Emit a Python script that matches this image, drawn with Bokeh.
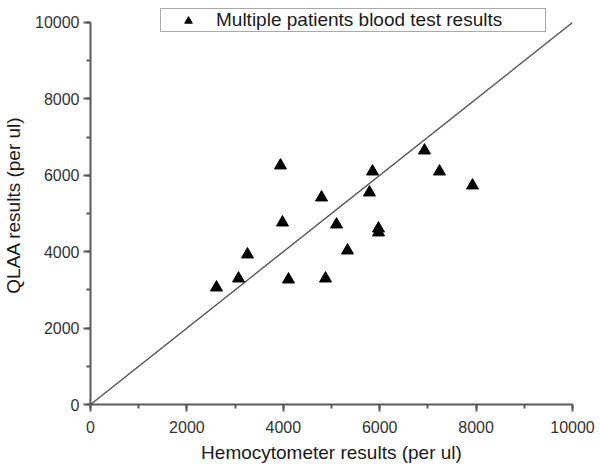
from bokeh.plotting import figure
from bokeh.models import Range1d, SingleIntervalTicker, Legend, LegendItem
from bokeh.embed import file_html
from bokeh.resources import INLINE

# Data
hemocytometer = [2614, 3071, 3257, 3942, 3983, 4108, 4793, 4876, 5104, 5332,
                 5788, 5851, 5975, 5975, 6929, 7241, 7925]
qlaa = [3063, 3298, 3927, 6257, 4764, 3272, 5419, 3298, 4712, 4031,
        5550, 6099, 4607, 4503, 6649, 6099, 5733]
ref_x = [0, 10000]
ref_y = [0, 10000]

FONT = "Liberation Sans"
AXIS_COL = "#5a5a5a"

p = figure(width=598, height=466, output_backend="svg", toolbar_location=None,
           x_range=Range1d(0, 10000), y_range=Range1d(0, 10445.0),
           min_border_left=90, min_border_right=26, min_border_top=5,
           min_border_bottom=62)
p.outline_line_color = None
p.xgrid.visible = False
p.ygrid.visible = False
p.background_fill_color = "white"

p.line(ref_x, ref_y, line_color="#555555", line_width=1.4)
r = p.scatter(hemocytometer, qlaa, marker="triangle", size=12,
              fill_color="black", line_color="black")

for ax in (p.xaxis[0], p.yaxis[0]):
    ax.ticker = SingleIntervalTicker(interval=2000, num_minor_ticks=2)
    ax.bounds = (0, 10000)
    ax.axis_line_color = AXIS_COL
    ax.axis_line_width = 2
    ax.major_tick_line_color = AXIS_COL
    ax.major_tick_line_width = 2
    ax.minor_tick_line_color = AXIS_COL
    ax.minor_tick_line_width = 2
    ax.major_tick_out = 7
    ax.major_tick_in = 0
    ax.minor_tick_out = 4
    ax.minor_tick_in = 0
    ax.major_label_text_font = FONT
    ax.major_label_text_font_size = "16px"
    ax.major_label_text_color = "#333333"
    ax.axis_label_text_font = FONT
    ax.axis_label_text_font_size = "19px"
    ax.axis_label_text_font_style = "normal"
    ax.axis_label_text_color = "#1a1a1a"

p.xaxis.axis_label = "Hemocytometer results (per ul)"
p.yaxis.axis_label = "QLAA results (per ul)"
p.xaxis.major_label_standoff = 9
p.xaxis.axis_label_standoff = 6
p.yaxis.major_label_standoff = 4
p.yaxis.axis_label_standoff = 8
p.yaxis.major_label_orientation = "horizontal"

legend = Legend(items=[LegendItem(label="Multiple patients blood test results",
                                  renderers=[r])],
                location=(70, 372))
legend.label_text_font = FONT
legend.label_text_font_size = "19px"
legend.label_text_color = "#1a1a1a"
legend.padding = 0
legend.spacing = 0
legend.margin = 0
legend.glyph_width = 54
legend.glyph_height = 19
legend.label_height = 19
legend.label_standoff = 1
legend.label_width = 329
legend.border_line_color = "#555555"
legend.border_line_width = 1.5
legend.background_fill_color = "white"
legend.background_fill_alpha = 1
p.add_layout(legend, "center")

open("out.html", "w").write(file_html(p, INLINE))
